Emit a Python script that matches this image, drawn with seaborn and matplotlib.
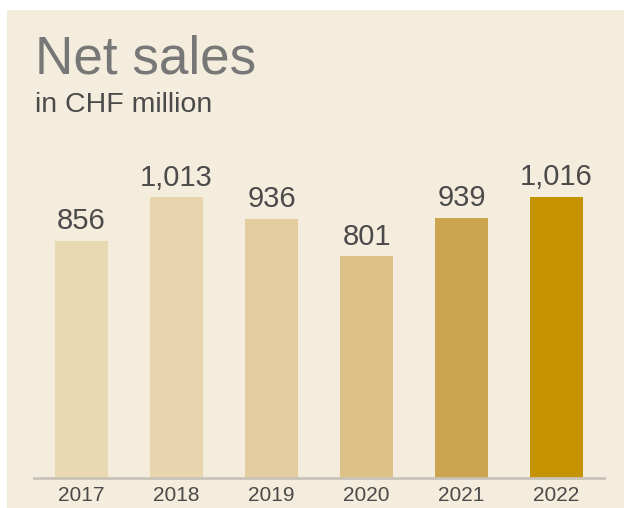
import matplotlib.pyplot as plt
import seaborn as sns
import pandas as pd
from matplotlib.patches import Rectangle

# Chart data
years = ["2017", "2018", "2019", "2020", "2021", "2022"]
net_sales = [856, 1013, 936, 801, 939, 1016]
bar_colors = ["#E9D9B2", "#E8D5AE", "#E3CD9F", "#DDC288", "#CCA550", "#C69300"]

df = pd.DataFrame({"year": years, "sales": net_sales})

sns.set_style("white")
plt.rcParams["font.family"] = ["Liberation Sans", "DejaVu Sans"]

fig = plt.figure(figsize=(6.24, 5.08), dpi=100)
fig.patch.set_facecolor("white")
# beige panel behind everything
fig.patches.append(Rectangle((7 / 624, 0), 1 - 7 / 624, 1 - 10 / 508,
                             transform=fig.transFigure, facecolor="#F4ECDC",
                             edgecolor="none", zorder=-5))

ax = fig.add_axes([34 / 624, 30 / 508, 570 / 624, 348 / 508])
ax.set_facecolor("none")

sns.barplot(data=df, x="year", y="sales", hue="year", palette=bar_colors,
            legend=False, width=0.56, saturation=1, linewidth=0,
            edgecolor="none", ax=ax)

ax.set_xlim(-0.5, 5.5)
ax.set_ylim(0, 348 / 0.277)

for i, v in enumerate(net_sales):
    ax.annotate(f"{v:,}", (i, v), xytext=(0, 4), textcoords="offset points",
                ha="center", va="bottom", fontsize=21, color="#4A4A4A")

for s in ["top", "right", "left"]:
    ax.spines[s].set_visible(False)
ax.spines["bottom"].set_color("#C9C2B8")
ax.spines["bottom"].set_linewidth(2)
ax.set_yticks([])
ax.set_xlabel("")
ax.set_ylabel("")
ax.tick_params(axis="x", length=0, pad=6, labelsize=15, labelcolor="#4A4A4A")

fig.text(35 / 624, 1 - 74 / 508, "Net sales", fontsize=38.2, color="#777777",
         ha="left", va="baseline")
fig.text(35 / 624, 1 - 112 / 508, "in CHF million", fontsize=20.5,
         color="#4A4A4A", ha="left", va="baseline")

fig.savefig("out.png", dpi=100)
